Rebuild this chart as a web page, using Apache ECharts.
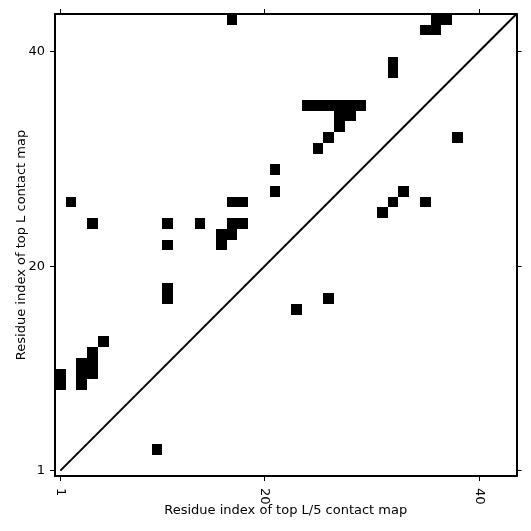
<!DOCTYPE html>
<html>
<head>
<meta charset="utf-8">
<script src="https://cdn.jsdelivr.net/npm/echarts@6/dist/echarts.min.js"></script>
<style>
  html, body { margin: 0; padding: 0; background: #fff; }
  #chart { width: 531px; height: 531px; }
</style>
</head>
<body>
<div id="chart"></div>
<script>
// contact map data: [residue i, residue j]
const tickValues = [1, 20, 40]
const axisMin = 0.5
const axisMax = 43.5

// top L contacts (above the diagonal)
const topLCells = [
  [17, 43], [36, 43], [37, 43], [35, 42], [36, 42],
  [32, 39], [32, 38],
  [24, 35], [25, 35], [26, 35], [27, 35], [28, 35], [29, 35],
  [27, 34], [28, 34], [27, 33], [26, 32], [25, 31],
  [21, 29], [21, 27],
  [2, 26], [17, 26], [18, 26],
  [4, 24], [11, 24], [14, 24], [17, 24], [18, 24],
  [16, 23], [17, 23], [11, 22], [16, 22],
  [11, 18], [11, 17],
  [5, 13], [4, 12], [3, 11], [4, 11],
  [1, 10], [3, 10], [4, 10], [1, 9], [3, 9]
]

// top L/5 contacts (below the diagonal)
const topL5Cells = [
  [38, 32], [33, 27], [32, 26], [35, 26], [31, 25],
  [26, 17], [23, 16], [10, 3]
]

const diagonal = [[1, 1], [43.5, 43.5]]

const chart = echarts.init(document.getElementById('chart'))

const font = 'DejaVu Sans'
const axisLine = { show: true, onZero: false, lineStyle: { color: '#000', width: 2 } }
const axisTick = { show: true, inside: false, length: 5, customValues: tickValues, lineStyle: { color: '#000', width: 1 } }

// snap cell edges to whole pixels so neighbouring cells join without seams
function renderCell(params, api) {
  const p0 = api.coord([api.value(0) - 0.5, api.value(1) + 0.5])
  const p1 = api.coord([api.value(0) + 0.5, api.value(1) - 0.5])
  const x0 = Math.round(p0[0]), y0 = Math.round(p0[1])
  const x1 = Math.round(p1[0]), y1 = Math.round(p1[1])
  return {
    type: 'rect',
    shape: { x: x0, y: y0, width: x1 - x0, height: y1 - y0 },
    style: { fill: '#000' }
  }
}

chart.setOption({
  animation: false,
  grid: { left: 55, top: 14, width: 461.5, height: 462, containLabel: false, outerBoundsMode: 'none' },
  xAxis: [
    {
      type: 'value', min: axisMin, max: axisMax, position: 'bottom',
      axisLine, axisTick,
      axisLabel: { customValues: tickValues, rotate: -90, margin: 12, color: '#000', fontSize: 13, fontFamily: font },
      splitLine: { show: false },
      name: 'Residue index of top L/5 contact map',
      nameLocation: 'middle', nameGap: 28, nameMoveOverlap: false,
      nameTextStyle: { color: '#000', fontSize: 13, fontFamily: font }
    },
    {
      type: 'value', min: axisMin, max: axisMax, position: 'top',
      axisLine, axisTick, axisLabel: { show: false }, splitLine: { show: false }
    }
  ],
  yAxis: [
    {
      type: 'value', min: axisMin, max: axisMax, position: 'left',
      axisLine, axisTick,
      axisLabel: { customValues: tickValues, margin: 10, color: '#000', fontSize: 13, fontFamily: font },
      splitLine: { show: false },
      name: 'Residue index of top L contact map',
      nameLocation: 'middle', nameGap: 27, nameMoveOverlap: false,
      nameTextStyle: { color: '#000', fontSize: 13, fontFamily: font }
    },
    {
      type: 'value', min: axisMin, max: axisMax, position: 'right',
      axisLine, axisTick, axisLabel: { show: false }, splitLine: { show: false }
    }
  ],
  series: [
    { type: 'custom', name: 'top L', renderItem: renderCell, data: topLCells, xAxisIndex: 0, yAxisIndex: 0 },
    { type: 'custom', name: 'top L/5', renderItem: renderCell, data: topL5Cells, xAxisIndex: 0, yAxisIndex: 0 },
    {
      type: 'line', data: diagonal, symbol: 'none', xAxisIndex: 0, yAxisIndex: 0,
      lineStyle: { color: '#000', width: 2 }
    }
  ]
})
</script>
</body>
</html>
